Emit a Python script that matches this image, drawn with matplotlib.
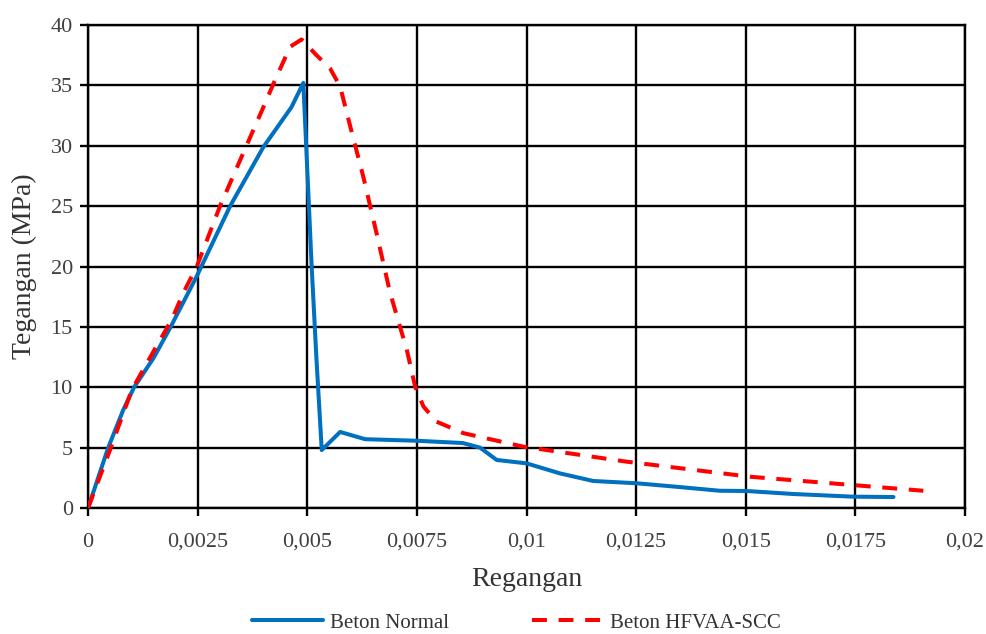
import matplotlib
matplotlib.use("Agg")
import matplotlib.pyplot as plt
from matplotlib.ticker import FixedLocator

plt.rcParams["font.family"] = ["Liberation Serif", "DejaVu Serif"]

# Beton Normal (blue, solid)
normal_strain = [0, 0.00046, 0.0008, 0.00105, 0.00149, 0.00187, 0.00248, 0.00324,
                 0.004, 0.00464, 0.00491, 0.0051, 0.00521, 0.00533, 0.00575, 0.00632,
                 0.0075, 0.00855, 0.00894, 0.00932, 0.0100, 0.01076, 0.01152,
                 0.01251, 0.01342, 0.01441, 0.01502, 0.01609, 0.01745, 0.01837]
normal_stress = [0, 5.0, 8.1, 10.0, 12.4, 14.9, 19.2, 25.0,
                 29.9, 33.2, 35.2, 20.0, 12.3, 4.8, 6.3, 5.7,
                 5.57, 5.38, 5.0, 3.98, 3.7, 2.87, 2.24,
                 2.05, 1.76, 1.43, 1.41, 1.16, 0.94, 0.91]

# Beton HFVAA-SCC (red, dashed)
scc_strain = [0, 0.0005, 0.001, 0.00156, 0.00191, 0.00217, 0.00248, 0.00301, 0.00354,
              0.004, 0.00426, 0.00461, 0.00487, 0.00521, 0.00552, 0.00575,
              0.00598, 0.00628, 0.00658, 0.00689, 0.00727, 0.00746, 0.00765,
              0.00795, 0.00856, 0.00993, 0.01228, 0.0151, 0.01905]
scc_stress = [0, 4.8, 9.8, 13.4, 15.6, 17.8, 20.0, 25.0, 29.4,
              33.2, 35.4, 38.2, 38.8, 37.5, 36.4, 34.9,
              31.6, 27.4, 22.75, 17.8, 13.1, 10.05, 8.4,
              7.15, 6.2, 5.08, 3.84, 2.59, 1.43]

x_ticks = [0, 0.0025, 0.005, 0.0075, 0.01, 0.0125, 0.015, 0.0175, 0.02]
x_tick_labels = ["0", "0,0025", "0,005", "0,0075", "0,01", "0,0125", "0,015", "0,0175", "0,02"]
y_ticks = [0, 5, 10, 15, 20, 25, 30, 35, 40]

fig = plt.figure(figsize=(9.87, 6.34), dpi=100)
ax = fig.add_axes([0.0892, 0.1987, 0.8885, 0.7619])

ax.plot(normal_strain, normal_stress, color="#0070C0", linewidth=2.9,
        solid_joinstyle="round", solid_capstyle="round", label="Beton Normal", zorder=3)
ax.plot(scc_strain, scc_stress, color="#FF0000", linewidth=2.9,
        linestyle=(0, (3.7, 2.9)), label="Beton HFVAA-SCC", zorder=4)

ax.set_xlim(0, 0.02)
ax.set_ylim(0, 40)
ax.xaxis.set_major_locator(FixedLocator(x_ticks))
ax.set_xticklabels(x_tick_labels)
ax.yaxis.set_major_locator(FixedLocator(y_ticks))
ax.grid(True, color="black", linewidth=1.7)
ax.set_axisbelow(True)
for s in ax.spines.values():
    s.set_linewidth(1.7)
    s.set_color("black")
ax.tick_params(axis="both", direction="out", length=6, width=1.7,
               labelsize=16, colors="black", labelcolor="#404040")
ax.tick_params(axis="x", pad=12)
ax.tick_params(axis="y", pad=5)

ax.set_xlabel("Regangan", fontsize=20, color="#333333")
ax.set_ylabel("Tegangan (MPa)", fontsize=20, color="#333333")
ax.xaxis.set_label_coords(0.5, -0.122)
ax.yaxis.set_label_coords(-0.058, 0.5)

fig.legend(loc="center", bbox_to_anchor=(516.5 / 987, 0.0174), ncol=2,
           frameon=False, fontsize=15, handlelength=3.4, handletextpad=0.35,
           columnspacing=4.0, labelcolor="#333333")

fig.savefig("out.png", dpi=100)
